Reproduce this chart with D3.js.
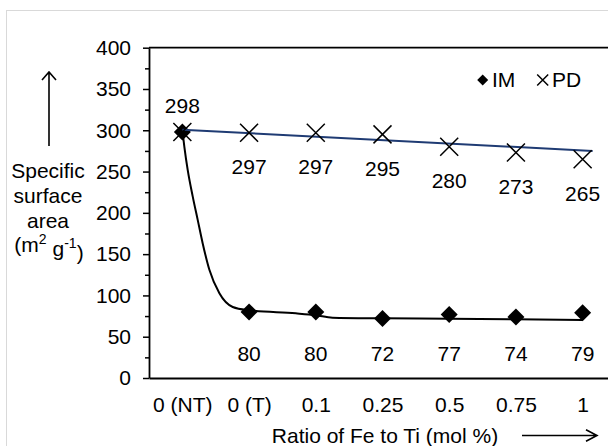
<!DOCTYPE html>
<html>
<head>
<meta charset="utf-8">
<script src="https://cdn.jsdelivr.net/npm/d3@7"></script>
<style>
  html, body { margin: 0; padding: 0; background: #fff; }
  svg { display: block; font-family: "Liberation Sans", Arial, sans-serif; }
</style>
</head>
<body>
<svg id="chart" width="608" height="446"></svg>
<script>
// ---- data ----
const categories = ["0 (NT)", "0 (T)", "0.1", "0.25", "0.5", "0.75", "1"];
const imValues = [298, 80, 80, 72, 77, 74, 79];
const pdValues = [298, 297, 297, 295, 280, 273, 265];
const yTicks = [0, 50, 100, 150, 200, 250, 300, 350, 400];
const yMinorTicks = [25, 75, 125, 175, 225, 275, 325, 375];
// smoothed IM fit curve (category index, value)
const imCurveX = [0, 0.03, 0.08, 0.155, 0.23, 0.305, 0.405, 0.555, 0.755, 1, 1.7, 2, 2.25, 3, 4, 5, 6];
const imCurveY = [300, 280, 252, 220, 191.5, 163, 131, 102.6, 86, 82, 78.3, 76, 73, 72.3, 71.8, 71, 70.3];
// PD linear trend line
const pdTrendX = [0, 6.15];
const pdTrendY = [300.6, 275];

// ---- drawing ----
const svg = d3.select("#chart");
svg.append("rect").attr("width", 608).attr("height", 446).attr("fill", "#fff");
svg.append("rect").attr("x", 6.5).attr("y", 10.5).attr("width", 700).attr("height", 500)
  .attr("fill", "none").attr("stroke", "#d9d9d9").attr("stroke-width", 1);

const x = d3.scaleLinear().domain([-0.5, 6.5]).range([149, 616]);
const y = d3.scaleLinear().domain([0, 400]).range([378, 47.7]);
const FS = 21;
const FONT = "Liberation Sans, Arial, sans-serif";

// top frame line
svg.append("line").attr("x1", x(-0.5)).attr("x2", x(6.5))
  .attr("y1", y(400)).attr("y2", y(400)).attr("stroke", "#000").attr("stroke-width", 1.8);

// minor y ticks
const gMinor = svg.append("g").attr("transform", `translate(${x(-0.5)},0)`)
  .call(d3.axisLeft(y).tickValues(yMinorTicks).tickSize(4).tickFormat(""));
gMinor.select(".domain").remove();
gMinor.selectAll("line").attr("stroke", "#000").attr("stroke-width", 1.5);

// y axis
const gy = svg.append("g").attr("transform", `translate(${x(-0.5)},0)`)
  .call(d3.axisLeft(y).tickValues(yTicks).tickSize(6).tickSizeOuter(0).tickPadding(12));
gy.select(".domain").attr("stroke", "#000").attr("stroke-width", 1.8);
gy.selectAll("line").attr("stroke", "#000").attr("stroke-width", 1.5);
gy.selectAll("text").attr("font-size", FS).attr("fill", "#000").attr("font-family", FONT);

// x axis
const gx = svg.append("g").attr("transform", `translate(0,${y(0)})`)
  .call(d3.axisBottom(x).tickValues(d3.range(categories.length))
    .tickFormat(i => categories[i]).tickSize(0).tickSizeOuter(0).tickPadding(19.5));
gx.select(".domain").attr("stroke", "#000").attr("stroke-width", 1.8);
gx.selectAll("text").attr("font-size", FS).attr("fill", "#000").attr("font-family", FONT);

// IM smoothed curve
const imCurve = imCurveX.map((v, i) => [v, imCurveY[i]]);
svg.append("path").datum(imCurve)
  .attr("d", d3.line().x(d => x(d[0])).y(d => y(d[1])).curve(d3.curveMonotoneX))
  .attr("fill", "none").attr("stroke", "#000").attr("stroke-width", 2);

// IM markers (diamonds)
const dia = 8.5;
svg.append("g").selectAll("path").data(imValues).join("path")
  .attr("d", (d, i) => {
    const cx = x(i), cy = y(d);
    return `M${cx},${cy - dia}L${cx + dia},${cy}L${cx},${cy + dia}L${cx - dia},${cy}Z`;
  })
  .attr("fill", "#000");

// PD trend line
const pdTrend = pdTrendX.map((v, i) => [v, pdTrendY[i]]);
svg.append("path").datum(pdTrend)
  .attr("d", d3.line().x(d => x(d[0])).y(d => y(d[1])))
  .attr("fill", "none").attr("stroke", "#1F3B73").attr("stroke-width", 2);

// PD markers (X)
const xs = 9;
svg.append("g").selectAll("path").data(pdValues).join("path")
  .attr("d", (d, i) => {
    const cx = x(i), cy = y(d);
    return `M${cx - xs},${cy - xs}L${cx + xs},${cy + xs}M${cx - xs},${cy + xs}L${cx + xs},${cy - xs}`;
  })
  .attr("fill", "none").attr("stroke", "#000").attr("stroke-width", 1.5);

// PD labels
svg.append("g").selectAll("text").data(pdValues).join("text")
  .attr("x", (d, i) => x(i))
  .attr("y", (d, i) => i === 0 ? y(d) - 26.5 : y(d) + 34.3)
  .attr("dy", "0.35em").attr("text-anchor", "middle")
  .attr("font-size", FS).attr("fill", "#000").text(d => d);

// IM labels (skip first, shared with PD) - placed in a row below the curve
svg.append("g").selectAll("text").data(imValues.slice(1)).join("text")
  .attr("x", (d, i) => x(i + 1))
  .attr("y", d => y(0) - 24)
  .attr("dy", "0.35em").attr("text-anchor", "middle")
  .attr("font-size", FS).attr("fill", "#000").text(d => d);

// legend
const lg = svg.append("g");
const lx = 482.7, ly = 80, ld = 5.5;
lg.append("path").attr("d", `M${lx},${ly - ld}L${lx + ld},${ly}L${lx},${ly + ld}L${lx - ld},${ly}Z`).attr("fill", "#000");
lg.append("text").attr("x", 492).attr("y", ly).attr("dy", "0.35em").attr("font-size", FS).text("IM");
const px = 542.7, pdS = 5.5;
lg.append("path").attr("d", `M${px - pdS},${ly - pdS}L${px + pdS},${ly + pdS}M${px - pdS},${ly + pdS}L${px + pdS},${ly - pdS}`)
  .attr("stroke", "#000").attr("stroke-width", 1.5).attr("fill", "none");
lg.append("text").attr("x", 552).attr("y", ly).attr("dy", "0.35em").attr("font-size", FS).text("PD");

// y-axis title with up arrow
const ax = 49;
svg.append("path").attr("d", `M${ax},146 L${ax},72 M${ax - 7},80 L${ax},72 L${ax + 7},80`)
  .attr("fill", "none").attr("stroke", "#000").attr("stroke-width", 1.6);
const yTitle = ["Specific", "surface", "area"];
svg.append("g").selectAll("text").data(yTitle).join("text")
  .attr("x", 48).attr("y", (d, i) => 171 + i * 24.6).attr("dy", "0.35em")
  .attr("text-anchor", "middle").attr("font-size", FS).text(d => d);
const unit = svg.append("text").attr("x", 49).attr("y", 171 + 3 * 24.6).attr("dy", "0.35em")
  .attr("text-anchor", "middle").attr("font-size", FS);
unit.append("tspan").text("(m");
unit.append("tspan").attr("font-size", 14).attr("dy", "-0.55em").text("2");
unit.append("tspan").attr("dy", "0.55em").text(" g");
unit.append("tspan").attr("font-size", 14).attr("dy", "-0.55em").text("-1");
unit.append("tspan").attr("dy", "0.55em").text(")");

// x-axis title with right arrow
svg.append("text").attr("x", 385).attr("y", 436).attr("dy", "0.35em")
  .attr("text-anchor", "middle").attr("font-size", FS).text("Ratio of Fe to Ti (mol %)");
svg.append("path").attr("d", `M522,435.5 L597,435.5 M586,429.7 L597,435.5 L586,441.3`)
  .attr("fill", "none").attr("stroke", "#000").attr("stroke-width", 1.6);
</script>
</body>
</html>
